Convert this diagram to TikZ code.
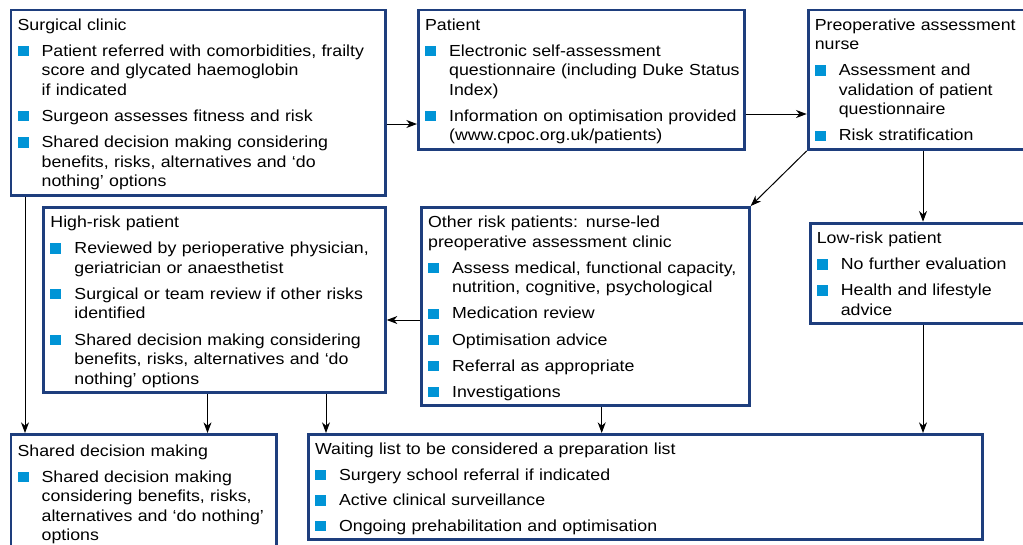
\documentclass[tikz,border=0pt]{standalone}
\usepackage{fontspec}
\setmainfont{Liberation Sans}[FakeStretch=1.11]
\usetikzlibrary{arrows.meta}

\definecolor{boxblue}{RGB}{30,62,125}
\definecolor{bulletblue}{RGB}{0,148,214}
\newcommand{\sqbullet}{\makebox[18pt][l]{\textcolor{bulletblue}{\rule{8.2pt}{7.8pt}}}}
\newcommand{\titlestrut}{\rule{0pt}{13.2pt}}

\tikzset{every picture/.style={line width=0.75pt}}
\tikzset{
  stepbox/.style={draw=boxblue, line width=2.2pt, fill=white, anchor=north west,
    align=left, inner xsep=5pt, inner ysep=2pt, font=\fontsize{12}{14.6}\selectfont},
  flow/.style={-{Stealth[length=8pt,width=6pt,inset=2.5pt]}, line width=0.75pt, black}
}

\begin{document}
\begin{tikzpicture}[x=0.75pt,y=0.75pt,yscale=-1,xscale=1]
\useasboundingbox (0,0) rectangle (1023,544);

% Text Node
\node [stepbox, minimum width=280.6pt, minimum height=138.8pt, text width=270.6pt] (surgical) at (9.5,8.5) {%
\begin{tabular}{@{}l@{}l@{}}
\multicolumn{2}{@{}l@{}}{\titlestrut Surgical clinic}\\[5pt]
\sqbullet & Patient referred with comorbidities, frailty\\
 & score and glycated haemoglobin\\
 & if indicated\\[5pt]
\sqbullet & Surgeon assesses fitness and risk\\[5pt]
\sqbullet & Shared decision making considering\\
 & benefits, risks, alternatives and ‘do\\
 & nothing’ options
\end{tabular}};
% Text Node
\node [stepbox, minimum width=244.3pt, minimum height=102.8pt, text width=234.3pt] (patient) at (417,8.5) {%
\begin{tabular}{@{}l@{}l@{}}
\multicolumn{2}{@{}l@{}}{\titlestrut Patient}\\[5pt]
\sqbullet & Electronic self-assessment\\
 & questionnaire (including Duke Status\\
 & Index)\\[5pt]
\sqbullet & Information on optimisation provided\\
 & (www.cpoc.org.uk/patients)
\end{tabular}};
% Text Node
\node [stepbox, minimum width=165.3pt, minimum height=102.8pt, text width=155.3pt] (nurse) at (806.7,8.5) {%
\begin{tabular}{@{}l@{}l@{}}
\multicolumn{2}{@{}l@{}}{\titlestrut Preoperative assessment}\\
\multicolumn{2}{@{}l@{}}{nurse}\\[5pt]
\sqbullet & Assessment and\\
 & validation of patient\\
 & questionnaire\\[5pt]
\sqbullet & Risk stratification
\end{tabular}};
% Text Node
\node [stepbox, minimum width=256.1pt, minimum height=137.1pt, text width=246.1pt] (highrisk) at (42.3,206) {%
\begin{tabular}{@{}l@{}l@{}}
\multicolumn{2}{@{}l@{}}{\titlestrut High-risk patient}\\[5pt]
\sqbullet & Reviewed by perioperative physician,\\
 & geriatrician or anaesthetist\\[5pt]
\sqbullet & Surgical or team review if other risks\\
 & identified\\[5pt]
\sqbullet & Shared decision making considering\\
 & benefits, risks, alternatives and ‘do\\
 & nothing’ options
\end{tabular}};
% Text Node
\node [stepbox, minimum width=245.8pt, minimum height=146.3pt, text width=235.8pt] (otherrisk) at (420,206) {%
\begin{tabular}{@{}l@{}l@{}}
\multicolumn{2}{@{}l@{}}{\titlestrut Other risk patients: nurse-led}\\
\multicolumn{2}{@{}l@{}}{preoperative assessment clinic}\\[5pt]
\sqbullet & Assess medical, functional capacity,\\
 & nutrition, cognitive, psychological\\[5pt]
\sqbullet & Medication review\\[5pt]
\sqbullet & Optimisation advice\\[5pt]
\sqbullet & Referral as appropriate\\[5pt]
\sqbullet & Investigations
\end{tabular}};
% Text Node
\node [stepbox, minimum width=163.8pt, minimum height=72.8pt, text width=153.8pt] (lowrisk) at (808.7,221.7) {%
\begin{tabular}{@{}l@{}l@{}}
\multicolumn{2}{@{}l@{}}{\titlestrut Low-risk patient}\\[5pt]
\sqbullet & No further evaluation\\[5pt]
\sqbullet & Health and lifestyle\\
 & advice
\end{tabular}};
% Text Node
\node [stepbox, minimum width=199.2pt, minimum height=87.1pt, text width=189.2pt] (shared) at (9.5,433) {%
\begin{tabular}{@{}l@{}l@{}}
\multicolumn{2}{@{}l@{}}{\titlestrut Shared decision making}\\[5pt]
\sqbullet & Shared decision making\\
 & considering benefits, risks,\\
 & alternatives and ‘do nothing’\\
 & options
\end{tabular}};
% Text Node
\node [stepbox, minimum width=505.6pt, minimum height=78.4pt, text width=495.6pt] (waiting) at (307,433) {%
\begin{tabular}{@{}l@{}l@{}}
\multicolumn{2}{@{}l@{}}{\titlestrut Waiting list to be considered a preparation list}\\[4.5pt]
\sqbullet & Surgery school referral if indicated\\[4.5pt]
\sqbullet & Active clinical surveillance\\[4.5pt]
\sqbullet & Ongoing prehabilitation and optimisation
\end{tabular}};

\coordinate (row1) at (0,124);
\coordinate (row2) at (0,114);
\coordinate (row3) at (0,320);
\coordinate (col1) at (25,0);
\coordinate (col2) at (207.5,0);
\coordinate (col3) at (326,0);
\coordinate (col4) at (601.7,0);
\coordinate (col5) at (923,0);

%Straight Lines
\draw [flow] (surgical.east |- row1) -- (patient.west |- row1);
\draw [flow] (patient.east |- row2) -- (nurse.west |- row2);
\draw [flow] (nurse.south west) -- (otherrisk.north east);
\draw [flow] (nurse.south -| col5) -- (lowrisk.north -| col5);
\draw [flow] (otherrisk.west |- row3) -- (highrisk.east |- row3);
\draw [flow] (surgical.south -| col1) -- (shared.north -| col1);
\draw [flow] (highrisk.south -| col2) -- (shared.north -| col2);
\draw [flow] (highrisk.south -| col3) -- (waiting.north -| col3);
\draw [flow] (otherrisk.south -| col4) -- (waiting.north -| col4);
\draw [flow] (lowrisk.south -| col5) -- (waiting.north -| col5);

\end{tikzpicture}
\end{document}
